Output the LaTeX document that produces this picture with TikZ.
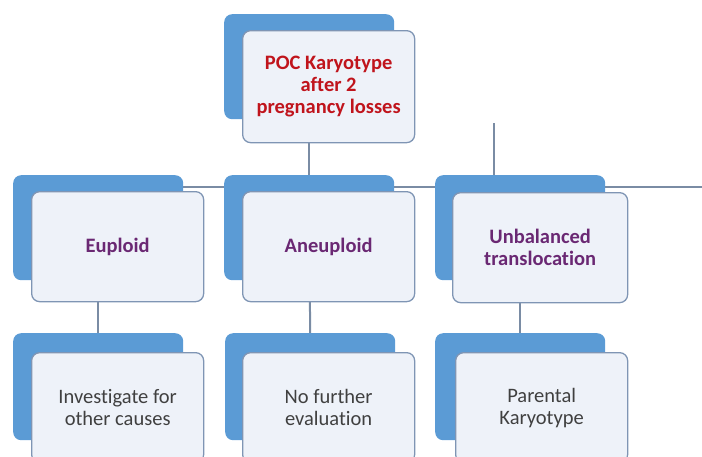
\documentclass[tikz,border=0pt]{standalone}
\usepackage{fontspec}
\setmainfont{Carlito}[Ligatures=NoCommon]
\definecolor{backblue}{HTML}{5B9BD5}
\definecolor{cardfill}{HTML}{EEF2F9}
\definecolor{cardedge}{HTML}{7F95B4}
\definecolor{linkgray}{HTML}{7A8CA4}
\definecolor{headred}{HTML}{C0141C}
\definecolor{levelpurple}{HTML}{6A2873}
\definecolor{leafgray}{HTML}{404040}
\pgfdeclarelayer{bg}
\pgfsetlayers{bg,main}
\tikzset{
  backcard/.style={fill=backblue, rounded corners=8pt, anchor=north west,
    minimum width=170pt, minimum height=105pt, inner sep=0pt},
  frontcard/.style={draw=cardedge, line width=1.3pt, fill=cardfill,
    rounded corners=8pt, anchor=north west, minimum width=172pt,
    minimum height=110pt, inner sep=0pt, align=center},
  headtext/.style={font=\fontsize{20.5}{21.8}\selectfont\bfseries, text=headred},
  midtext/.style={font=\fontsize{20.5}{22}\selectfont\bfseries, text=levelpurple},
  leaftext/.style={font=\fontsize{20.5}{22}\selectfont, text=leafgray},
  link/.style={draw=linkgray, line width=2pt},
}
\begin{document}
\begin{tikzpicture}[x=1pt, y=-1pt]
  \useasboundingbox (0,0) rectangle (702,456);
  \clip (0,0) rectangle (702,456);

  % root
  \node[backcard] (rootb) at (224,14) {};
  \node[frontcard, headtext, minimum height=112pt] (root) at (242,30)
    {POC Karyotype\\after 2\\pregnancy losses};

  % second level
  \node[backcard] (eub) at (13,175) {};
  \node[frontcard, midtext] (eu) at (31,191) {Euploid};
  \node[backcard] (aneb) at (224,175) {};
  \node[frontcard, midtext] (ane) at (242,191) {Aneuploid};
  \node[backcard] (unb) at (435,175) {};
  \node[frontcard, midtext, minimum width=175pt] (un) at (452,192)
    {Unbalanced\\translocation};

  % third level
  \node[backcard, minimum height=107pt] (invb) at (13,333) {};
  \node[frontcard, leaftext] (inv) at (31,352) {Investigate for\\other causes};
  \node[backcard, minimum height=107pt] (nfeb) at (225,333) {};
  \node[frontcard, leaftext] (nfe) at (242,352) {No further\\evaluation};
  \node[backcard, minimum height=107pt] (parb) at (435,333) {};
  \node[frontcard, leaftext] (par) at (455,352) {Parental\\Karyotype};

  % loose ends of the connector grid
  \coordinate (rightstub) at (702,187);
  \coordinate (topstub) at (494,123);

  \begin{pgfonlayer}{bg}
    \draw[link] (rootb.center) -- (aneb.north);
    \draw[link] ([yshift=-12pt]eub.north east) -- ([yshift=-12pt]aneb.north west);
    \draw[link] ([yshift=-12pt]aneb.north east) -- ([yshift=-12pt]unb.north west);
    \draw[link] ([yshift=-12pt]unb.north east) -- (rightstub);
    \draw[link] (topstub) -- (topstub |- unb.north);
    \draw[link] (eub.center) -- (invb.north);
    \draw[link] (aneb.center) -- (nfeb.north);
    \draw[link] (unb.center) -- (parb.north);
  \end{pgfonlayer}
\end{tikzpicture}
\end{document}
